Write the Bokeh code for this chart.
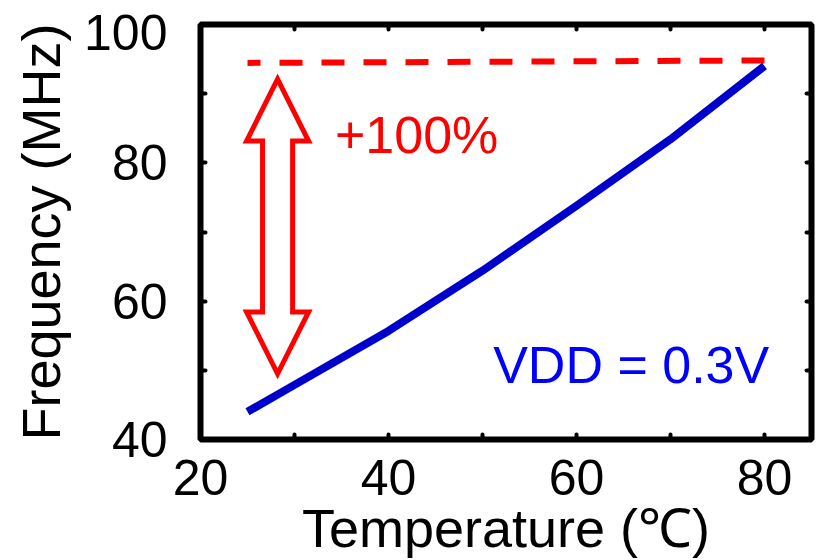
from bokeh.plotting import figure
from bokeh.models import Range1d, LinearAxis, FixedTicker, Label
from bokeh.embed import file_html
from bokeh.resources import INLINE

# ---- data ----
temp_c = [25, 30, 40, 50, 60, 70, 80]
freq_mhz = [44.0, 47.9, 55.7, 64.4, 73.8, 83.4, 94.0]

target_temp = [25, 80]
target_freq = [94.45, 94.8]

x_ticks = [20, 30, 40, 50, 60, 70, 80]
x_tick_labels = ["20", "", "40", "", "60", "", "80"]
y_ticks = [40, 50, 60, 70, 80, 90, 100]
# label positions on the y axis (top one nudged down, as in the reference)
y_label_pos = [40, 60, 80, 98.8]
y_label_text = ["40", "60", "80", "100"]

x_title = "Temperature (\u2103)"
y_title = "Frequency (MHz)"
gain_text = "+100%"
vdd_text = "VDD = 0.3V"

# annotation arrow (data units)
arrow_x = 28.2
arrow_lo = 49.5
arrow_hi = 92.1
head_len = 8.95
head_half = 3.3
shaft_half = 1.6

FONT = "Liberation Sans"
RED = "#FF0000"
BLUE_LINE = "#0000CC"
BLUE_TEXT = "#0000FF"

p = figure(width=822, height=560, output_backend="svg", toolbar_location=None,
           x_range=Range1d(20, 85), y_range=Range1d(40, 100),
           min_border_left=200, min_border_right=11,
           min_border_top=24, min_border_bottom=121)
p.background_fill_color = "white"
p.border_fill_color = "white"
p.grid.visible = False
p.outline_line_color = "black"
p.outline_line_width = 6
p.outline_line_alpha = 1.0

def style_axis(ax, ticks, labels, size, standoff, tick_in=5):
    ax.ticker = FixedTicker(ticks=ticks)
    ax.major_label_overrides = {t: l for t, l in zip(ticks, labels)}
    ax.axis_line_color = None
    ax.major_tick_in = tick_in
    ax.major_tick_out = 0
    ax.major_tick_line_width = 4
    ax.major_tick_line_cap = "round"
    ax.major_tick_line_color = "black" if tick_in else None
    ax.minor_tick_line_color = None
    ax.major_label_text_font = FONT
    ax.major_label_text_font_size = size
    ax.major_label_text_color = "black"
    ax.major_label_standoff = standoff

def style_title(ax, title, so):
    ax.axis_label = title
    ax.axis_label_text_font = FONT
    ax.axis_label_text_font_size = "54px"
    ax.axis_label_text_font_style = "normal"
    ax.axis_label_text_color = "black"
    ax.axis_label_standoff = so

xa = p.xaxis[0]
ya = p.yaxis[0]
style_axis(xa, x_ticks, x_tick_labels, "50px", 20)
style_title(xa, x_title, 0)
# main left axis: tick marks only
style_axis(ya, y_ticks, ["" for _ in y_ticks], "0px", 0)

# second left axis: tick labels and title
ylab = LinearAxis()
style_axis(ylab, y_label_pos, y_label_text, "50px", 33, tick_in=0)
style_title(ylab, y_title, 10)
p.add_layout(ylab, "left")

top_ax = LinearAxis()
right_ax = LinearAxis()
for ax, ticks in ((top_ax, x_ticks), (right_ax, y_ticks)):
    style_axis(ax, ticks, ["" for _ in ticks], "0px", 0)
p.add_layout(top_ax, "above")
p.add_layout(right_ax, "right")

# target level (dashed)
p.line(target_temp, target_freq, line_color=RED, line_width=6,
       line_dash="23 19", line_dash_offset=10)

# frequency curve
p.line(temp_c, freq_mhz, line_color=BLUE_LINE, line_width=8,
       line_cap="butt", line_join="round")

# hollow double arrow
hb = arrow_hi - head_len
lb = arrow_lo + head_len
ax_pts = [arrow_x, arrow_x + head_half, arrow_x + shaft_half, arrow_x + shaft_half,
          arrow_x + head_half, arrow_x, arrow_x - head_half, arrow_x - shaft_half,
          arrow_x - shaft_half, arrow_x - head_half]
ay_pts = [arrow_hi, hb, hb, lb, lb, arrow_lo, lb, lb, hb, hb]
p.patch(ax_pts, ay_pts, fill_color="white", line_color=RED, line_width=5,
        line_join="miter")

p.add_layout(Label(x=34.3, y=81.0, y_offset=21, text=gain_text, text_color=RED,
                   text_font=FONT, text_font_size="52px",
                   text_baseline="alphabetic", text_align="left"))
p.add_layout(Label(x=80.5, y=48.05, y_offset=19, text=vdd_text, text_color=BLUE_TEXT,
                   text_font=FONT, text_font_size="52px",
                   text_baseline="alphabetic", text_align="right"))

open("out.html", "w").write(file_html(p, INLINE))
